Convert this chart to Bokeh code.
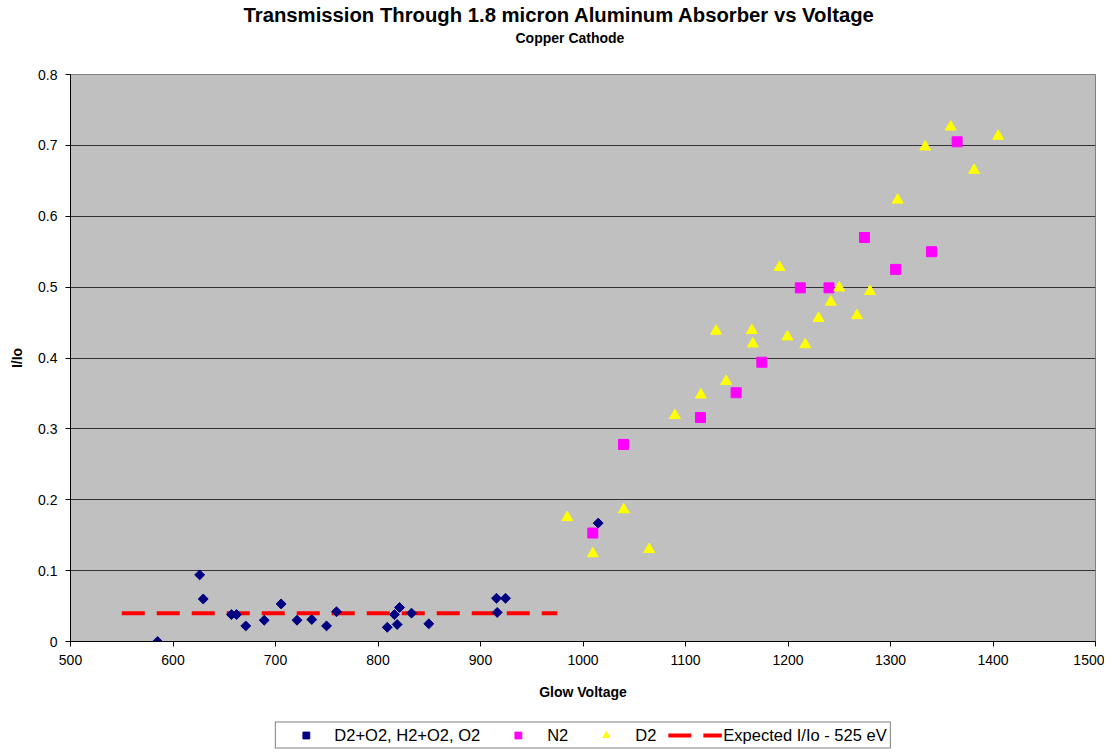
import math
from bokeh.plotting import figure
from bokeh.layouts import column
from bokeh.models import Title, Legend, LegendItem, FixedTicker
from bokeh.embed import file_html
from bokeh.resources import INLINE

# ---- data ----
mix_x = [585, 626, 629.5, 657, 662, 671, 689, 705.5, 721, 735.4, 749.8, 759.5,
         809, 816, 818.7, 821, 832.7, 849.6, 915.6, 916.3, 924.4, 1014.8]
mix_y = [0.0, 0.094, 0.060, 0.038, 0.038, 0.022, 0.030, 0.053, 0.030, 0.031, 0.022, 0.042,
         0.020, 0.038, 0.024, 0.048, 0.040, 0.025, 0.061, 0.041, 0.061, 0.167]

n2_x = [1009.6, 1039.5, 1114.6, 1149.4, 1174.5, 1212, 1240, 1274.6, 1305, 1340, 1365]
n2_y = [0.153, 0.278, 0.316, 0.351, 0.394, 0.499, 0.499, 0.570, 0.525, 0.550, 0.705]

d2_x = [984.6, 1009.6, 1039.8, 1064.6, 1089.6, 1115, 1129.9, 1139.7, 1164.7, 1165.7,
        1191.7, 1199.5, 1216.8, 1229.8, 1241.8, 1250, 1267.3, 1280, 1307, 1333.9,
        1358.8, 1381.6, 1405]
d2_y = [0.175, 0.124, 0.186, 0.130, 0.319, 0.348, 0.438, 0.367, 0.439, 0.420,
        0.528, 0.430, 0.419, 0.456, 0.479, 0.499, 0.460, 0.494, 0.623, 0.698,
        0.726, 0.665, 0.713]

expected_x = [550, 975]
expected_y = [0.04, 0.04]

x_ticks = [500, 600, 700, 800, 900, 1000, 1100, 1200, 1300, 1400, 1500]
y_ticks = [0, 0.1, 0.2, 0.3, 0.4, 0.5, 0.6, 0.7, 0.8]
y_tick_labels = ["0", "0.1", "0.2", "0.3", "0.4", "0.5", "0.6", "0.7", "0.8"]

series_labels = ["D2+O2, H2+O2, O2", "N2", "D2", "Expected I/Io - 525 eV"]

FONT = "Liberation Sans"
NAVY, MAGENTA, YELLOW, RED = "#000080", "#FF00FF", "#FFFF00", "#FF0000"

p = figure(frame_width=1025, frame_height=567, x_range=(500, 1500), y_range=(0, 0.8),
           output_backend="svg", toolbar_location=None, title=None,
           min_border_left=70, min_border_right=9, min_border_top=74, min_border_bottom=79)

p.background_fill_color = "#C0C0C0"
p.border_fill_color = "white"
p.outline_line_color = "#808080"
p.outline_line_width = 1

spacer = Title(text=" ", text_font=FONT, text_font_size="14px", standoff=11)
sub = Title(text="Copper Cathode", align="left", text_font=FONT, text_font_size="14px",
            text_font_style="bold", text_color="black", standoff=0, offset=445)
main = Title(text="Transmission Through 1.8 micron Aluminum Absorber vs Voltage", align="left",
             text_font=FONT, text_font_size="20.3px", text_font_style="bold", text_color="black",
             standoff=3, offset=173)
p.add_layout(spacer, "above")
p.add_layout(sub, "above")
p.add_layout(main, "above")

# grids
p.xgrid.visible = False
p.ygrid.ticker = FixedTicker(ticks=y_ticks)
p.ygrid.grid_line_color = "#333333"
p.ygrid.grid_line_width = 1

# axes
p.xaxis.ticker = FixedTicker(ticks=x_ticks)
p.yaxis.ticker = FixedTicker(ticks=y_ticks)
p.yaxis.major_label_overrides = {t: l for t, l in zip(y_ticks, y_tick_labels)}
for ax in (p.xaxis[0], p.yaxis[0]):
    ax.axis_line_color = "black"
    ax.major_tick_line_color = "black"
    ax.major_tick_in = 0
    ax.major_tick_out = 5
    ax.minor_tick_line_color = None
    ax.major_label_text_font = FONT
    ax.major_label_text_font_size = "14px"
    ax.major_label_text_color = "black"
    ax.axis_label_text_font = FONT
    ax.axis_label_text_font_size = "14px"
    ax.axis_label_text_font_style = "bold"
    ax.axis_label_text_color = "black"
p.xaxis.axis_label = "Glow Voltage"
p.yaxis.axis_label = "I/Io"
p.xaxis.major_label_standoff = 8
p.xaxis.axis_label_standoff = 16
p.yaxis.major_label_standoff = 8
p.yaxis.axis_label_standoff = 10

# glyphs
line_kw = dict(line_color=RED, line_width=4, line_dash="23 12")
mix_kw = dict(marker="square", angle=math.pi / 4, size=7, fill_color=NAVY, line_color=NAVY)
n2_kw = dict(marker="square", size=10, fill_color=MAGENTA, line_color=MAGENTA)
d2_kw = dict(marker="triangle", size=11, fill_color=YELLOW, line_color=YELLOW)

p.line(expected_x, expected_y, **line_kw)
p.scatter(mix_x, mix_y, **mix_kw)
p.scatter(n2_x, n2_y, **n2_kw)
p.scatter(d2_x, d2_y, **d2_kw)

# legend strip below the chart: same series, drawn outside its visible range,
# so only the legend entries show
lg = figure(width=1104, height=29, x_range=(0, 1), y_range=(0, 1),
            output_backend="svg", toolbar_location=None, title=None,
            x_axis_location=None, y_axis_location=None,
            min_border_left=53, min_border_right=0, min_border_top=0, min_border_bottom=0)
lg.grid.visible = False
lg.outline_line_color = None
lg.background_fill_color = "white"
lg.border_fill_color = "white"

s_mix = lg.scatter(mix_x, mix_y, **mix_kw)
s_n2 = lg.scatter(n2_x, n2_y, **n2_kw)
s_d2 = lg.scatter(d2_x, d2_y, **d2_kw)
s_line = lg.line(expected_x, expected_y, **line_kw)

legend = Legend(items=[
    LegendItem(label=series_labels[0], renderers=[s_mix]),
    LegendItem(label=series_labels[1], renderers=[s_n2]),
    LegendItem(label=series_labels[2], renderers=[s_d2]),
    LegendItem(label=series_labels[3], renderers=[s_line]),
], orientation="horizontal", location="center")
legend.label_text_font = FONT
legend.label_text_font_size = "16.5px"
legend.label_text_color = "black"
legend.label_height = 17
legend.glyph_height = 17
legend.glyph_width = 54
legend.label_standoff = 2
legend.spacing = 11
legend.padding = 3
legend.margin = 0
legend.border_line_color = "black"
legend.border_line_width = 1
legend.background_fill_color = "white"
legend.background_fill_alpha = 1
lg.add_layout(legend, "center")

layout = column(p, lg, spacing=0)
open("out.html", "w").write(file_html(layout, INLINE))
